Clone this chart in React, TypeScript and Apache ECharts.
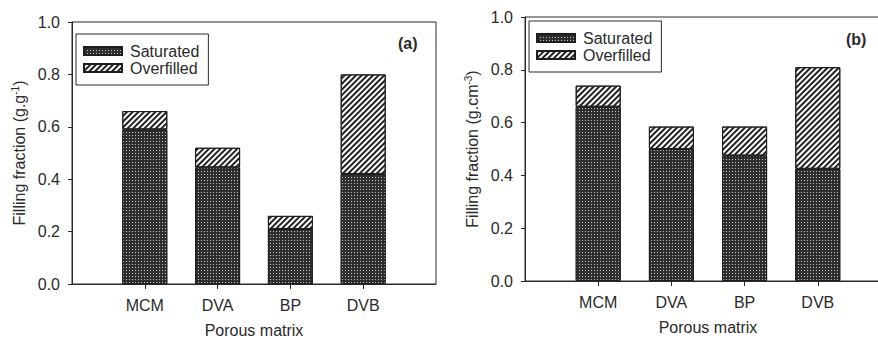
import React, { useEffect, useRef } from "react";
import * as echarts from "echarts";

const categories = ["MCM", "DVA", "BP", "DVB"];
const leftSaturated = [0.59, 0.445, 0.21, 0.42];
const leftOverfilled = [0.07, 0.075, 0.05, 0.38];
const rightSaturated = [0.66, 0.5, 0.475, 0.425];
const rightOverfilled = [0.08, 0.085, 0.11, 0.385];
const yTicks = [0, 0.2, 0.4, 0.6, 0.8, 1.0];
const seriesNames = ["Saturated", "Overfilled"];

const FONT = "'Liberation Sans', Arial, sans-serif";
const INK = "#2a2a2a";

const pad = (arr: number[]) => [null, ...arr, null];
const axisCats = ["", ...categories, ""];

const satDecal = {
  symbol: "rect",
  symbolSize: 1,
  dashArrayX: [1, 2],
  dashArrayY: [1, 2],
  color: "#c8c8c8",
};
const overDecal = {
  symbol: "rect",
  symbolSize: 1,
  dashArrayX: [1, 0],
  dashArrayY: [1.1, 1.1],
  rotation: -Math.PI / 4,
  color: "#222",
};

function xAxis(gridIndex: number) {
  return {
    type: "category",
    gridIndex,
    data: axisCats,
    boundaryGap: false,
    name: "Porous matrix",
    nameLocation: "middle",
    nameGap: 38,
    nameTextStyle: { fontFamily: FONT, fontSize: 16, color: INK },
    axisLine: { lineStyle: { color: INK, width: 1 } },
    axisTick: {
      show: true,
      length: 5,
      lineStyle: { color: INK },
      interval: (i: number) => i > 0 && i < axisCats.length - 1,
    },
    axisLabel: {
      fontFamily: FONT,
      fontSize: 16,
      color: INK,
      margin: 13,
      interval: 0,
    },
    splitLine: { show: false },
  };
}

function yAxis(gridIndex: number, unit: string, sup: string) {
  return {
    type: "value",
    gridIndex,
    min: 0,
    max: 1,
    interval: 0.2,
    name: `{a|Filling fraction (${unit}}{s|${sup}}{a|)}`,
    nameLocation: "middle",
    nameGap: 44,
    nameRotate: 90,
    nameTextStyle: {
      rich: {
        a: { fontFamily: FONT, fontSize: 16, color: INK, lineHeight: 18 },
        s: {
          fontFamily: FONT,
          fontSize: 10,
          color: INK,
          lineHeight: 10,
          verticalAlign: "top",
        },
      },
    },
    axisLine: { show: true, lineStyle: { color: INK, width: 1 } },
    axisTick: { show: true, length: 4, lineStyle: { color: INK } },
    axisLabel: {
      fontFamily: FONT,
      fontSize: 16,
      color: INK,
      margin: 12,
      formatter: (v: number) =>
        yTicks.some((t) => Math.abs(t - v) < 1e-9) ? v.toFixed(1) : "",
    },
    splitLine: { show: false },
  };
}

function bars(idx: number, sat: number[], over: number[]) {
  const common = {
    type: "bar",
    xAxisIndex: idx,
    yAxisIndex: idx,
    stack: "s" + idx,
    barWidth: 45,
  };
  return [
    {
      ...common,
      name: seriesNames[0],
      data: pad(sat),
      itemStyle: {
        color: "#2e2e2e",
        borderColor: "#1e1e1e",
        borderWidth: 1,
        decal: satDecal,
      },
    },
    {
      ...common,
      name: seriesNames[1],
      data: pad(over),
      itemStyle: {
        color: "#ffffff",
        borderColor: "#1e1e1e",
        borderWidth: 1,
        decal: overDecal,
      },
    },
  ];
}

function legend(left: number, top: number) {
  return {
    left,
    top,
    orient: "vertical",
    data: seriesNames,
    icon: "rect",
    itemWidth: 38,
    itemHeight: 8,
    itemGap: 1,
    padding: [9, 9, 9, 7],
    borderColor: INK,
    borderWidth: 1,
    backgroundColor: "#fff",
    selectedMode: false,
    textStyle: {
      fontFamily: FONT,
      fontSize: 16,
      color: INK,
      padding: [0, 0, 0, 3],
    },
  };
}

export default function App() {
  const ref = useRef<HTMLDivElement>(null);
  useEffect(() => {
    document.body.style.margin = "0";
    const chart = echarts.init(ref.current!, undefined, { renderer: "svg" });
    chart.setOption({
      animation: false,
      backgroundColor: "#fff",
      grid: [
        {
          left: 72,
          top: 22,
          right: 442,
          bottom: 54,
          show: true,
          borderColor: INK,
          borderWidth: 1,
          backgroundColor: "transparent",
          containLabel: false,
          outerBoundsMode: "none",
        },
        {
          left: 525,
          top: 17,
          right: -13,
          bottom: 57,
          show: true,
          borderColor: INK,
          borderWidth: 1,
          backgroundColor: "transparent",
          containLabel: false,
          outerBoundsMode: "none",
        },
      ],
      xAxis: [xAxis(0), xAxis(1)],
      yAxis: [yAxis(0, "g.g", "-1"), yAxis(1, "g.cm", "-3")],
      legend: [legend(76, 34), legend(529, 21)],
      series: [
        ...bars(0, leftSaturated, leftOverfilled),
        ...bars(1, rightSaturated, rightOverfilled),
      ],
      graphic: [
        {
          type: "text",
          left: 398,
          top: 35,
          style: {
            text: "(a)",
            font: `bold 16px ${FONT}`,
            fill: INK,
          },
        },
        {
          type: "text",
          left: 846,
          top: 31,
          style: {
            text: "(b)",
            font: `bold 16px ${FONT}`,
            fill: INK,
          },
        },
      ],
    });
    return () => chart.dispose();
  }, []);
  return (
    <div
      ref={ref}
      style={{ position: "absolute", left: 0, top: 0, width: 878, height: 338 }}
    />
  );
}
